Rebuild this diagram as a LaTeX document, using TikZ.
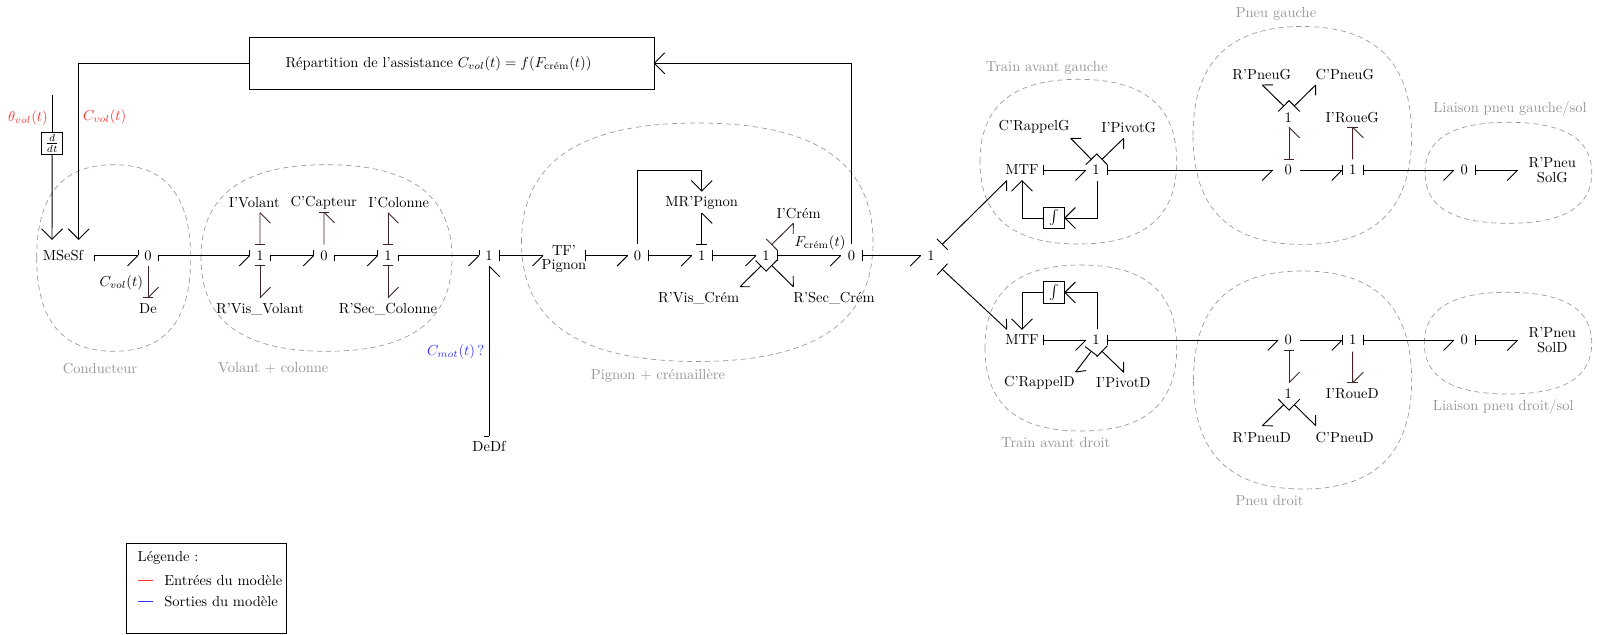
\documentclass[tikz,border=0pt]{standalone}
\usepackage{amsmath}
\usetikzlibrary{arrows.meta,calc}
\newcommand\deftip[2]{\pgfdeclarearrow{name=#1,
  setup code={\pgfarrowssettipend{0pt}\pgfarrowssetlineend{0pt}\pgfarrowssetbackend{0pt}},
  drawing code={\pgfsetdash{}{0pt}\pgfsetlinewidth{0.65pt}\pgfsetbuttcap\pgfsetmiterjoin #2\pgfusepathqstroke}}}
\newcommand\seg[4]{\pgfpathmoveto{\pgfpoint{#1pt}{#2pt}}\pgfpathlineto{\pgfpoint{#3pt}{#4pt}}}
\deftip{bBL}{\seg{0}{0}{-7.23}{7.23}}
\deftip{bBR}{\seg{0}{0}{-7.23}{-7.23}}
\deftip{dBL}{\seg{0}{0}{-5.1}{5.1}}
\deftip{dBR}{\seg{0}{0}{-5.1}{-5.1}}
\deftip{tT}{\seg{0}{-3.65}{0}{3.65}}
\deftip{tL}{\seg{0}{0}{0}{3.65}}
\deftip{tR}{\seg{0}{0}{0}{-3.65}}
\deftip{tD}{\seg{0}{-5.3}{0}{5.3}}
\deftip{sig}{\pgfpathmoveto{\pgfpoint{-7.23pt}{7.23pt}}\pgfpathlineto{\pgfpointorigin}\pgfpathlineto{\pgfpoint{-7.23pt}{-7.23pt}}}
\definecolor{vdark}{RGB}{65,35,35}
\definecolor{lbl}{RGB}{150,150,150}
\definecolor{redish}{RGB}{255,50,50}
\definecolor{blueish}{RGB}{50,50,255}
\tikzset{
  lab/.style={inner sep=0pt,outer sep=0pt,align=center},
  grp/.style={lab,text=lbl},
  box/.style={draw,line width=.65pt,inner sep=0pt,outer sep=0pt,minimum width=14.6pt,minimum height=15pt,fill=white},
  blobline/.style={draw=lbl,line width=.45pt,dash pattern=on 3.6pt off 2.6pt},
  link/.style={line width=.65pt},
  sigl/.style={link,arrows=-{sig[]}},
  startT/.style={link,arrows={tT[]}-{bBR[]}},
  half/.style={link,arrows={tL[]}-{tL[]bBR[]}},
  upT/.style={link,vdark,arrows={tT[]}-{bBR[]}},
  upE/.style={link,vdark,arrows=-{tT[]bBR[]}},
  dnT/.style={link,vdark,arrows={tT[]}-{bBL[]}},
  dnE/.style={link,vdark,arrows=-{tT[]bBL[]}},
  diagR/.style={link,arrows={tD[]}-{dBR[]}},
  diagL/.style={link,arrows={tD[]}-{dBL[]}},
}
\newcommand\myblob[4]{%
  \pgfmathsetmacro\bmx{(#1+#3)/2}\pgfmathsetmacro\bmy{(#2+#4)/2}%
  \pgfmathsetmacro\bkx{.67*(#3-#1)/2}\pgfmathsetmacro\bky{.67*(#4-#2)/2}%
  \draw[blobline] (#1,\bmy) .. controls (#1,\bmy-\bky) and (\bmx-\bkx,#2) .. (\bmx,#2)
    .. controls (\bmx+\bkx,#2) and (#3,\bmy-\bky) .. (#3,\bmy)
    .. controls (#3,\bmy+\bky) and (\bmx+\bkx,#4) .. (\bmx,#4)
    .. controls (\bmx-\bkx,#4) and (#1,\bmy+\bky) .. cycle;}
\begin{document}
\begin{tikzpicture}[x=0.6887pt,y=-0.6887pt]
\useasboundingbox (0,0) rectangle (1597,635);
% groups
\myblob{36.7}{164.7}{190.7}{351.3}
\myblob{201}{164.7}{452}{351.3}
\myblob{521.5}{123}{873}{361.5}
\myblob{980}{79.3}{1176.7}{244}
\myblob{985}{265}{1176.7}{431}
\myblob{1193}{26.5}{1411.6}{244.4}
\myblob{1193.5}{271}{1411.6}{489}
\myblob{1425}{122.3}{1591.7}{223.3}
\myblob{1424.3}{292.3}{1591.7}{394}
\node[grp] (gC) at (100,368.3) {Conducteur};
\node[grp] (gV) at (273.3,367.8) {Volant + colonne};
\node[grp] (gP) at (658,376.3) {Pignon + crémaillère};
\node[grp] (gTG) at (1046.7,67.7) {Train avant gauche};
\node[grp] (gTD) at (1055.7,442.3) {Train avant droit};
\node[grp] (gPG) at (1276,14) {Pneu gauche};
\node[grp] (gPD) at (1269.5,500.5) {Pneu droit};
\node[grp] (gLG) at (1510,109.3) {Liaison pneu gauche/sol};
\node[grp] (gLD) at (1503.3,407.2) {Liaison pneu droit/sol};
% main row
\node[lab] (ms) at (63,255.5) {MSeSf};
\node[lab] (z1) at (148,255.5) {0};
\node[lab] (u1) at (260,255.5) {1};
\node[lab] (z2) at (324,255.5) {0};
\node[lab] (u2) at (388,255.5) {1};
\node[lab] (u3) at (489,255.5) {1};
\node[lab] (tf) at (564,259) {TF'\\[-2pt]Pignon};
\node[lab] (z3) at (637.6,255.5) {0};
\node[lab] (u4) at (701.7,255.5) {1};
\node[lab] (u5) at (766,255.5) {1};
\node[lab] (z4) at (851.5,255.5) {0};
\node[lab] (u6) at (931,255.5) {1};
\node[lab] (de) at (148,309) {De};
\node[lab] (cv) at (121.3,283) {$C_{vol}(t)$};
\node[lab] (iv) at (254.3,203) {I'Volant};
\node[lab] (rv) at (260,309) {R'Vis\_Volant};
\node[lab] (cc) at (323.7,202.3) {C'Capteur};
\node[lab] (ic) at (398.7,203) {I'Colonne};
\node[lab] (rc) at (388,309) {R'Sec\_Colonne};
\node[lab] (df) at (489,446) {DeDf};
\node[lab] (mr) at (701.7,203) {MR'Pignon};
\node[lab] (icr) at (798.6,213.3) {I'Crém};
\node[lab] (rvc) at (698.6,298) {R'Vis\_Crém};
\node[lab] (rsc) at (834,298) {R'Sec\_Crém};
\node[lab] (fc) at (820,243) {$F_{\text{crém}}(t)$};
\node[lab,text=blueish] (cm) at (455.7,352) {$C_{mot}(t)\,?$};
\node[lab,text=redish] (th) at (28,118) {$\theta_{vol}(t)$};
\node[lab,text=redish] (cr) at (104.7,117) {$C_{vol}(t)$};
\node[box] (dd) at (52.2,143.2) {$\frac{d}{dt}$};
\node[draw,line width=.65pt,lab,minimum width=279pt,minimum height=36.2pt] (rep) at (451.7,63.3) {};
\node[lab] (rept) at (438.5,64) {Répartition de l'assistance $C_{vol}(t)=f(F_{\text{crém}}(t))$};
% right upper
\node[lab] (mg) at (1022,170) {MTF};
\node[lab] (ug) at (1096,170) {1};
\node[lab] (zg) at (1288.3,170) {0};
\node[lab] (vg) at (1352.7,170) {1};
\node[lab] (lg) at (1464.3,170) {0};
\node[lab] (sg) at (1552.3,170) {R'Pneu\\[-2pt]SolG};
\node[lab] (hg) at (1288.3,117.3) {1};
\node[lab] (crg) at (1034,127) {C'RappelG};
\node[lab] (ipg) at (1128.7,128) {I'PivotG};
\node[lab] (rpg) at (1261.7,75) {R'PneuG};
\node[lab] (cpg) at (1344.7,75) {C'PneuG};
\node[lab] (irg) at (1352.3,117.3) {I'RoueG};
\node[box] (ig) at (1054.3,218) {$\int$};
% right lower
\node[lab] (md) at (1022,340) {MTF};
\node[lab] (ud) at (1096,340) {1};
\node[lab] (zd) at (1288.3,340) {0};
\node[lab] (vd) at (1352.7,340) {1};
\node[lab] (ld) at (1464.3,340) {0};
\node[lab] (sd) at (1552.3,340) {R'Pneu\\[-2pt]SolD};
\node[lab] (hd) at (1288.3,394) {1};
\node[lab] (crd) at (1039.3,382.3) {C'RappelD};
\node[lab] (ipd) at (1123.3,383) {I'PivotD};
\node[lab] (rpd) at (1261.7,437.3) {R'PneuD};
\node[lab] (cpd) at (1344.7,437.3) {C'PneuD};
\node[lab] (ird) at (1352.3,394) {I'RoueD};
\node[box] (id) at (1054.3,292.5) {$\int$};
% row bonds
\draw[half] ($(ms)+(31.5,0)$) -- ($(z1)+(-10,0)$);
\draw[half] ($(z1)+(10.7,0)$) -- ($(u1)+(-10.3,0)$);
\draw[half] ($(u1)+(10.7,0)$) -- ($(z2)+(-10.3,0)$);
\draw[half] ($(z2)+(10.3,0)$) -- ($(u2)+(-10.3,0)$);
\draw[half] ($(u2)+(10.7,0)$) -- ($(u3)+(-10,0)$);
\draw[startT] ($(u3)+(10.3,0)$) -- ($(z3)+(-94.6,0)$);
\draw[startT] ($(z3)+(-52.6,0)$) -- ($(z3)+(-10,0)$);
\draw[startT] ($(z3)+(11,0)$) -- ($(u4)+(-10,0)$);
\draw[startT] ($(u4)+(11.2,0)$) -- ($(u5)+(-10,0)$);
\draw[startT] ($(u5)+(11.5,0)$) -- ($(z4)+(-10.8,0)$);
\draw[startT] ($(z4)+(10.5,0)$) -- ($(u6)+(-10.3,0)$);
% vertical bonds in the row
\draw[dnE] ($(z1)+(0,10.5)$) -- ($(de)+(0,-11.3)$);
\draw[upT] ($(u1)+(0,-10.8)$) -- ($(iv)+(5.7,9.7)$);
\draw[dnT] ($(u1)+(0,10.2)$) -- ($(rv)+(0,-11.3)$);
\draw[upE] ($(z2)+(0,-10.8)$) -- ($(cc)+(.3,10)$);
\draw[upT] ($(u2)+(0,-10.8)$) -- ($(ic)+(-10.7,9.7)$);
\draw[dnT] ($(u2)+(0,10.2)$) -- ($(rc)+(0,-11.3)$);
% Dedf
\draw[link,arrows={tR[]}-{bBR[]}] ($(df)+(0,-10)$) -- ($(u3)+(0,10.5)$);
% pignon loop
\draw[sigl] ($(z3)+(0,-11.2)$) |- (701.7,170) -- ($(mr)+(0,-12)$);
\draw[link,arrows={tT[]}-{bBR[]}] ($(u4)+(0,-11.2)$) -- ($(mr)+(0,10)$);
% 1 crem diag
\draw[link,vdark,arrows={tD[]}-{dBR[]}] ($(u5)+(5.7,-11)$) -- ($(icr)+(-5.3,10)$);
\draw[diagL] ($(u5)+(5.7,10)$) -- ($(rsc)+(-40.7,-11.3)$);
\draw[diagL] ($(u5)+(-5,10.5)$) -- ($(rvc)+(41.4,-11.3)$);
% feedback
\draw[sigl] ($(z4)+(0,-11.2)$) |- (rep.east);
\draw[sigl] (rep.west) -| ($(ms)+(15.7,-16.2)$);
\draw[link] ($(dd)+(0,-48)$) -- (dd.north);
\draw[sigl] (dd.south) -- ($(ms)+(-11,-16.2)$);
% splits
\draw[diagR] ($(u6)+(11.3,-11.2)$) -- ($(mg)+(-15.3,10.7)$);
\draw[diagL] ($(u6)+(11.3,13.8)$) -- ($(md)+(-15.3,-10.7)$);
% upper right
\draw[startT] ($(mg)+(21.3,0)$) -- ($(ug)+(-10,0)$);
\draw[startT] ($(ug)+(11.3,0)$) -- ($(zg)+(-15.6,0)$);
\draw[link,arrows=-{tT[]bBR[]}] ($(zg)+(11.7,0)$) -- ($(vg)+(-10.4,0)$);
\draw[startT] ($(vg)+(11,0)$) -- ($(lg)+(-10.3,0)$);
\draw[startT] ($(lg)+(11,0)$) -- ($(sg)+(-34.6,0)$);
\draw[diagR] ($(ug)+(6,-10.7)$) -- ($(ipg)+(-5,10.3)$);
\draw[diagR] ($(ug)+(-4.7,-10.7)$) -- ($(crg)+(36.7,11.3)$);
\draw[upT] ($(zg)+(.7,-10.7)$) -- ($(hg)+(.7,10)$);
\draw[diagR] ($(hg)+(-4.6,-11.3)$) -- ($(rpg)+(.6,10)$);
\draw[diagR] ($(hg)+(6,-11.3)$) -- ($(cpg)+(-29,10)$);
\draw[upE] ($(vg)+(0,-10.7)$) -- ($(irg)+(.4,10)$);
\draw[sigl] ($(ug)+(1,10.7)$) |- (ig.east);
\draw[sigl] (ig.west) -| ($(mg)+(0,10.7)$);
% lower right
\draw[startT] ($(md)+(21.3,0)$) -- ($(ud)+(-10,0)$);
\draw[startT] ($(ud)+(11.3,0)$) -- ($(zd)+(-10,0)$);
\draw[link,arrows=-{tT[]bBR[]}] ($(zd)+(11.7,0)$) -- ($(vd)+(-10.4,0)$);
\draw[startT] ($(vd)+(11,0)$) -- ($(ld)+(-10.3,0)$);
\draw[startT] ($(ld)+(11,0)$) -- ($(sd)+(-34.6,0)$);
\draw[diagL] ($(ud)+(6,11.3)$) -- ($(ipd)+(.4,-10.7)$);
\draw[diagL] ($(ud)+(-4.7,11.3)$) -- ($(crd)+(36.3,-10.3)$);
\draw[dnT] ($(zd)+(.7,10.7)$) -- ($(hd)+(.7,-11.3)$);
\draw[diagL] ($(hd)+(-4.6,10.7)$) -- ($(rpd)+(.6,-11.6)$);
\draw[diagL] ($(hd)+(6,10.7)$) -- ($(cpd)+(-29,-11.6)$);
\draw[dnE] ($(vd)+(0,11.7)$) -- ($(ird)+(.4,-11.3)$);
\draw[sigl] ($(ud)+(1,-10.7)$) |- (id.east);
\draw[sigl] (id.west) -| ($(md)+(0,-10.7)$);
% legend
\node[draw,line width=.65pt,lab,minimum width=110.2pt,minimum height=62pt] (leg) at (206.7,588.3) {};
\node[lab,anchor=west] (lt) at (137.7,558.3) {Légende :};
\coordinate (la) at (137.7,580);
\coordinate (lb) at (153.3,580);
\coordinate (lc) at (137.7,601.7);
\coordinate (ld2) at (153.3,601.7);
\draw[redish,link] (la) -- (lb);
\draw[blueish,link] (lc) -- (ld2);
\node[lab,anchor=west] (le) at (164.3,581) {Entrées du modèle};
\node[lab,anchor=west] (ls) at (164.3,602) {Sorties du modèle};
\end{tikzpicture}
\end{document}
